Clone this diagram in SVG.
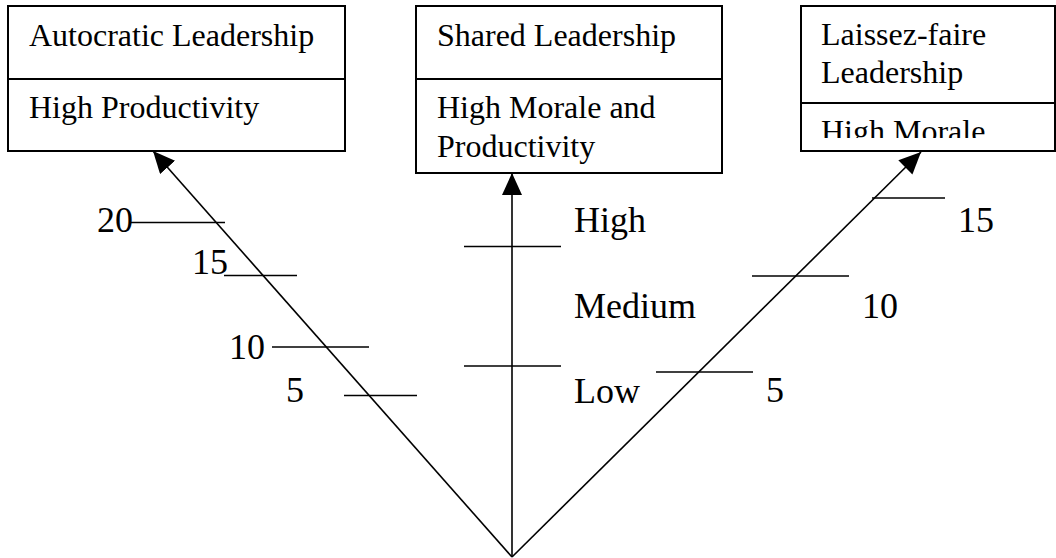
<svg xmlns="http://www.w3.org/2000/svg" width="1056" height="558" viewBox="0 0 1056 558">
<style>
.box{fill:#fff;stroke:#000;stroke-width:2}
.div{stroke:#000;stroke-width:2}
.bt{font-family:"Liberation Serif","Times New Roman",serif;font-size:32px;fill:#000}
.lb{font-family:"Liberation Serif","Times New Roman",serif;font-size:36px;fill:#000}
.ax{stroke:#000;stroke-width:1.6;fill:none}
.tk{stroke:#000;stroke-width:1.6}
</style>
<defs>
<marker id="ah" markerUnits="userSpaceOnUse" markerWidth="24" markerHeight="22" refX="22" refY="10" orient="auto" viewBox="0 0 24 22">
<path d="M0,0 L22,10 L0,20 Z" fill="#000"/>
</marker>
<clipPath id="c3"><rect x="802" y="104" width="252" height="34"/></clipPath>
</defs>
<g id="node-autocratic">
<rect class="box" x="8" y="6" width="337" height="145"/>
<line class="div" x1="8" y1="79" x2="345" y2="79"/>
<text class="bt" x="29" y="46">Autocratic Leadership</text>
<text class="bt" x="29" y="118">High Productivity</text>
</g>
<g id="node-shared">
<rect class="box" x="416" y="6" width="306" height="167"/>
<line class="div" x1="416" y1="79" x2="722" y2="79"/>
<text class="bt" x="437" y="46">Shared Leadership</text>
<text class="bt" x="437" y="118">High Morale and</text>
<text class="bt" x="437" y="157">Productivity</text>
</g>
<g id="node-laissez">
<rect class="box" x="801" y="6" width="254" height="145"/>
<line class="div" x1="801" y1="103" x2="1055" y2="103"/>
<text class="bt" x="821" y="45">Laissez-faire</text>
<text class="bt" x="821" y="83">Leadership</text>
<text class="bt" x="821" y="142" clip-path="url(#c3)">High Morale</text>
</g>
<g id="connectors">
<line class="ax" x1="512" y1="557" x2="153" y2="151" marker-end="url(#ah)"/>
<line class="ax" x1="512" y1="557" x2="512" y2="173" marker-end="url(#ah)"/>
<line class="ax" x1="512" y1="557" x2="921" y2="152" marker-end="url(#ah)"/>
</g>
<g id="ticks">
<line class="tk" x1="129" y1="222.5" x2="225" y2="222.5"/>
<line class="tk" x1="224" y1="275.5" x2="297" y2="275.5"/>
<line class="tk" x1="272" y1="347" x2="369" y2="347"/>
<line class="tk" x1="344" y1="395.5" x2="417" y2="395.5"/>
<line class="tk" x1="464" y1="246.5" x2="561" y2="246.5"/>
<line class="tk" x1="464" y1="366" x2="561" y2="366"/>
<line class="tk" x1="872" y1="198" x2="945" y2="198"/>
<line class="tk" x1="752" y1="276" x2="849" y2="276"/>
<line class="tk" x1="656" y1="372" x2="753" y2="372"/>
</g>
<g id="labels">
<text class="lb" x="97" y="232">20</text>
<text class="lb" x="192" y="274">15</text>
<text class="lb" x="229" y="359">10</text>
<text class="lb" x="286" y="402">5</text>
<text class="lb" x="574" y="232">High</text>
<text class="lb" x="574" y="318">Medium</text>
<text class="lb" x="574" y="403">Low</text>
<text class="lb" x="958" y="232">15</text>
<text class="lb" x="862" y="318">10</text>
<text class="lb" x="766" y="402">5</text>
</g>
</svg>
